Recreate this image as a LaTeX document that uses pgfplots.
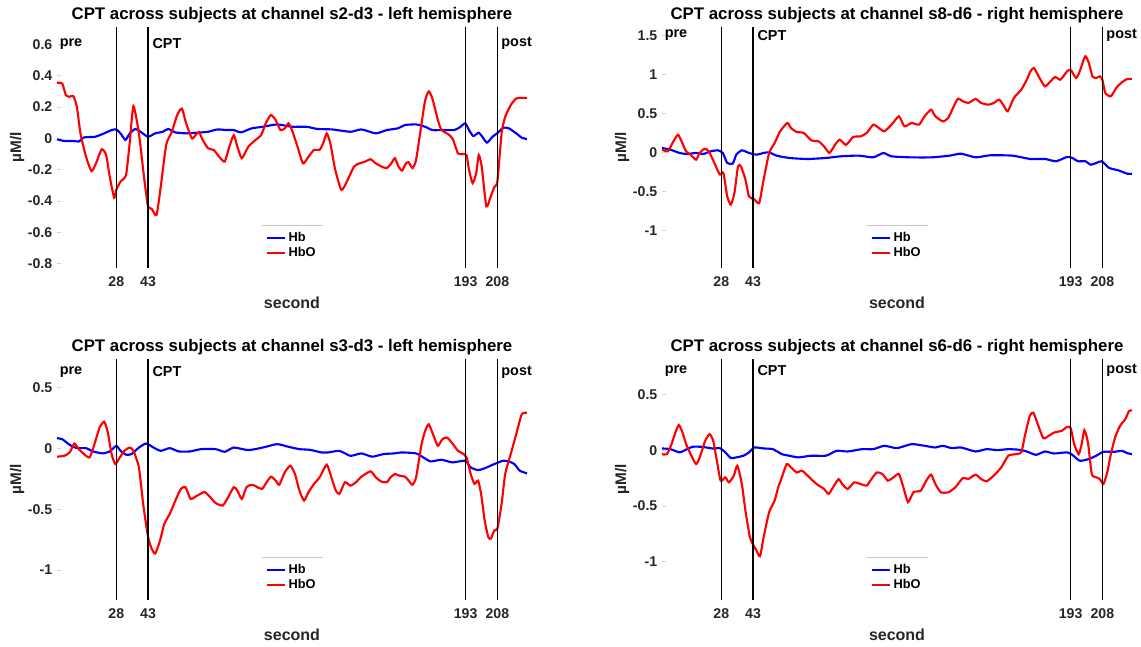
\documentclass[border=0pt]{standalone}
\usepackage{fontspec}
\setmainfont{Liberation Sans}
\usepackage{pgfplots}
\pgfplotsset{compat=1.18}
\definecolor{tickgray}{HTML}{262626}

\tikzset{
  lab/.style={font=\fontsize{10.8}{12}\selectfont\bfseries, anchor=west, inner sep=0pt},
}
\pgfplotsset{
  cpt/.style={
    scale only axis,
    width=352.5pt, height=180.75pt,
    anchor=south west,
    xmin=0, xmax=222,
    axis x line*=bottom, axis y line*=left,
    axis line style={draw=none},
    xtick={28,43,193,208},
    xticklabels={28,43,193,208},
    xtick style={draw=none},
    ytick style={draw=gray!35, line width=0.5pt},
    tick align=inside,
    major tick length=3pt,
    ticklabel style={font=\fontsize{10.6}{12}\selectfont\bfseries, text=tickgray},
    xticklabel style={yshift=-3pt},
    title style={font=\fontsize{12.6}{14}\selectfont\bfseries, yshift=-6.5pt},
    xlabel={second},
    ylabel={µM/l},
    xlabel style={font=\fontsize{12}{14}\selectfont\bfseries, text=tickgray, at={(axis description cs:0.5,-0.145)}, anchor=center},
    ylabel style={font=\fontsize{11.5}{14}\selectfont\bfseries, text=tickgray, at={(axis description cs:-0.085,0.5)}, anchor=center},
    legend style={at={(axis description cs:0.5,0.02)}, anchor=south, draw=none, fill=white,
      font=\fontsize{9.6}{11}\selectfont\bfseries, inner sep=1.5pt, row sep=-1.5pt},
    legend cell align=left,
    legend image code/.code={\draw[#1, line width=1.6pt] (0pt,0pt) -- (13.5pt,0pt);},
    clip=false,
  },
  hb/.style={blue, line width=1.6pt, smooth, tension=0.35},
  hbo/.style={red, line width=1.6pt, smooth, tension=0.35},
  vline/.style={black, line width=1.1pt, forget plot},
}

\begin{document}
\begin{tikzpicture}
\path[use as bounding box] (0,0) rectangle (855.75pt,484.5pt);

% ---------- top left: s2-d3 ----------
\begin{axis}[cpt, at={(42.75pt,283.5pt)},
  ymin=-0.829, ymax=0.712,
  ytick={-0.8,-0.6,-0.4,-0.2,0,0.2,0.4,0.6},
  yticklabels={-0.8,-0.6,-0.4,-0.2,0,0.2,0.4,0.6},
  title={CPT across subjects at channel s2-d3 - left hemisphere}]
\addplot[hb] coordinates {
(0,-0.006)(3.4,-0.017)(7.7,-0.017)(10.3,-0.02)(12.8,0.006)(18,0.01)(22.3,0.032)(25.8,0.053)(28,0.057)(30,0.032)(32.3,-0.01)(34.4,0.032)(37,0.06)(39.5,0.042)(43,0.01)(46.4,0.032)(49.9,0.042)(52.5,0.06)(55.9,0.038)(61,0.032)(66.2,0.036)(71.4,0.042)(75.7,0.057)(80,0.053)(83.5,0.053)(86.9,0.038)(92,0.064)(97.2,0.074)(104,0.089)(111,0.074)(117.9,0.074)(123,0.06)(130,0.057)(138.6,0.042)(143.8,0.057)(150.6,0.032)(155.8,0.053)(161,0.064)(164.4,0.085)(169.6,0.089)(173.9,0.074)(177.3,0.053)(183.3,0.053)(187.6,0.053)(190.2,0.07)(192.8,0.096)(194.6,0.053)(196.6,0.015)(199.2,0.036)(200.9,0.01)(203.1,-0.028)(205.7,0.01)(208.2,0.036)(210.8,0.068)(213.4,0.064)(216.9,0.032)(219.5,0.004)(222,-0.004)
};
\addplot[hbo] coordinates {
(0,0.355)(2.5,0.35)(4.2,0.276)(6,0.266)(7.7,0.27)(9.4,0.2)(11.1,0.03)(13.7,-0.117)(16.3,-0.21)(18.4,-0.16)(21.1,-0.07)(23.2,-0.106)(24.9,-0.244)(27,-0.38)(28,-0.33)(30,-0.276)(32.6,-0.235)(34.4,-0.02)(36.1,0.206)(38.7,0.03)(41.3,-0.27)(43,-0.435)(44.7,-0.45)(47,-0.49)(49,-0.31)(51.6,-0.04)(54.2,0.04)(56.8,0.15)(59,0.19)(61,0.096)(63.7,0)(65.4,0.02)(67.1,0.04)(68.8,-0.01)(71.4,-0.064)(74,-0.074)(76.6,-0.117)(79.2,-0.149)(81.4,-0.053)(83.5,0.02)(85.2,-0.053)(87.3,-0.127)(90.4,-0.053)(93.8,-0.01)(96.4,0.02)(98.6,0.096)(101,0.149)(103.3,0.117)(105.5,0.053)(107.6,0.064)(109.3,0.096)(111,0.053)(113.6,-0.053)(116.2,-0.16)(118.8,-0.117)(121.4,-0.074)(124,-0.074)(125.7,-0.032)(127.4,0.032)(129.1,-0.032)(131.4,-0.2)(134.3,-0.33)(136.9,-0.276)(140.3,-0.18)(142.9,-0.16)(145.5,-0.149)(148.1,-0.134)(150.6,-0.16)(153.2,-0.18)(155.8,-0.19)(157.9,-0.16)(159.6,-0.127)(161.3,-0.18)(163,-0.206)(164.8,-0.16)(166.1,-0.153)(167.9,-0.19)(169.6,-0.138)(172.2,0.096)(173.9,0.244)(175.6,0.3)(177.3,0.255)(179.9,0.117)(181.6,0.053)(184.2,0.032)(186.8,0)(189.4,-0.096)(191.6,-0.1)(193.4,-0.106)(194.6,-0.2)(196.3,-0.287)(198,-0.223)(199.2,-0.106)(200.6,-0.18)(202.8,-0.435)(204.9,-0.37)(206.6,-0.31)(208,-0.276)(210,0.032)(211.7,0.138)(214.3,0.212)(216.9,0.255)(219.5,0.259)(222,0.259)
};
\legend{Hb,HbO}
\addplot[vline] coordinates {(28,-0.829)(28,0.712)};
\addplot[vline] coordinates {(43,-0.829)(43,0.712)};
\addplot[vline] coordinates {(193,-0.829)(193,0.712)};
\addplot[vline] coordinates {(208,-0.829)(208,0.712)};
\node[lab] at (axis cs:1.2,0.605) {pre};
\node[lab] at (axis cs:45,0.605) {CPT};
\node[lab] at (axis cs:209.8,0.605) {post};
\draw[gray!45, line width=0.6pt] (rel axis cs:0.436,0.178) -- (rel axis cs:0.566,0.178);
\end{axis}

% ---------- top right: s8-d6 ----------
\begin{axis}[cpt, at={(496.5pt,283.5pt)},
  ymin=-1.476, ymax=1.608,
  ytick={-1,-0.5,0,0.5,1,1.5},
  yticklabels={-1,-0.5,0,0.5,1,1.5},
  title={CPT across subjects at channel s8-d6 - right hemisphere}]
\addplot[hb] coordinates {
(0,0.06)(4,0.038)(8.3,-0.004)(11.8,-0.017)(16.1,-0.004)(19.5,-0.017)(23,0.017)(26.4,0.03)(28.7,-0.004)(30.8,-0.132)(33.4,-0.14)(35.1,-0.026)(37.7,0.03)(41.1,-0.004)(44.6,-0.026)(48,-0.004)(50.6,0.004)(54.1,-0.038)(60.1,-0.068)(68.7,-0.081)(77.4,-0.068)(84.3,-0.047)(92.9,-0.038)(99.8,-0.06)(104.6,-0.004)(108.4,-0.047)(117.1,-0.06)(127.4,-0.06)(136,-0.038)(141.2,-0.013)(148.1,-0.06)(155,-0.034)(165.4,-0.038)(174,-0.081)(180.9,-0.081)(186.1,-0.11)(191.3,-0.055)(193.8,-0.068)(196.5,-0.11)(199.9,-0.11)(202.5,-0.154)(205.1,-0.132)(207.7,-0.11)(211.2,-0.196)(215.5,-0.226)(219.8,-0.27)(222,-0.27)
};
\addplot[hbo] coordinates {
(0,0.038)(2.8,0.017)(4.9,0.12)(7.5,0.23)(9.2,0.145)(11.4,0.017)(13.5,-0.026)(16.1,-0.09)(17.8,-0.004)(20.1,0.05)(22.1,0.017)(24.7,-0.13)(27.3,-0.28)(29,-0.26)(30.8,-0.56)(32.5,-0.665)(34.2,-0.516)(35.9,-0.175)(37.3,-0.175)(39.4,-0.346)(41.1,-0.56)(43.7,-0.6)(45.9,-0.644)(48,-0.346)(50.6,-0.004)(53.2,0.124)(55.8,0.273)(59.2,0.38)(60.9,0.316)(63.6,0.265)(67,0.252)(70.5,0.158)(73.9,0.145)(76.5,0.081)(79.1,-0.004)(81.7,0.1)(83.9,0.166)(86.9,0.1)(90.3,0.2)(93.8,0.209)(96.7,0.252)(99.8,0.358)(102.4,0.316)(105,0.273)(108.4,0.358)(111.9,0.465)(114.5,0.337)(117.9,0.38)(121.4,0.358)(124,0.465)(127.1,0.55)(129.1,0.465)(132.6,0.4)(135.2,0.444)(137.8,0.593)(139.8,0.69)(142.1,0.657)(144.7,0.636)(148.1,0.687)(150.7,0.636)(154.2,0.614)(156.7,0.636)(159.3,0.678)(161.6,0.593)(163.3,0.529)(166.2,0.7)(169.7,0.806)(172.3,0.934)(174,1.04)(175.7,1.084)(178.3,0.956)(180.9,0.849)(183.5,0.913)(185.7,0.968)(188.2,0.934)(191.3,1.04)(193,1.06)(195.6,0.956)(197.3,1.04)(199.9,1.233)(201.6,1.148)(203.3,0.977)(205.1,0.956)(206.8,0.977)(208,0.934)(209.4,0.764)(212,0.72)(214.6,0.83)(217.2,0.9)(219.8,0.943)(222,0.943)
};
\legend{Hb,HbO}
\addplot[vline] coordinates {(28,-1.476)(28,1.608)};
\addplot[vline] coordinates {(43,-1.476)(43,1.608)};
\addplot[vline] coordinates {(193,-1.476)(193,1.608)};
\addplot[vline] coordinates {(208,-1.476)(208,1.608)};
\node[lab] at (axis cs:1.2,1.5) {pre};
\node[lab] at (axis cs:45,1.5) {CPT};
\node[lab] at (axis cs:209.8,1.5) {post};
\draw[gray!45, line width=0.6pt] (rel axis cs:0.436,0.178) -- (rel axis cs:0.566,0.178);
\end{axis}

% ---------- bottom left: s3-d3 ----------
\begin{axis}[cpt, at={(42.75pt,34.5pt)},
  ymin=-1.245, ymax=0.731,
  ytick={-1,-0.5,0,0.5},
  yticklabels={-1,-0.5,0,0.5},
  title={CPT across subjects at channel s3-d3 - left hemisphere}]
\addplot[hb] coordinates {
(0,0.082)(2.5,0.073)(6,0.027)(9.4,0)(13.7,0)(17.1,-0.027)(21.5,-0.043)(24.9,-0.027)(28,0.019)(30,-0.022)(32.7,-0.054)(35.2,-0.049)(38.7,0.005)(42.1,0.038)(45.6,0.005)(49,-0.022)(53.3,0)(57.6,-0.027)(62.8,-0.027)(68,-0.008)(74.9,-0.008)(79.2,-0.03)(83.5,0.005)(90.4,-0.016)(97.2,0.005)(104,0.033)(109.3,0.011)(114.5,-0.008)(119.6,-0.014)(124.8,-0.035)(128.2,-0.035)(133.4,-0.022)(138.6,-0.063)(143.8,-0.043)(148.9,-0.07)(154.1,-0.049)(159.3,-0.043)(162.7,-0.035)(169.6,-0.043)(173,-0.076)(176.5,-0.109)(181.6,-0.095)(186.8,-0.117)(192.8,-0.103)(195.4,-0.158)(198.9,-0.18)(202.3,-0.163)(206.6,-0.13)(210.8,-0.103)(213.4,-0.109)(216,-0.13)(218.6,-0.185)(222,-0.207)
};
\addplot[hbo] coordinates {
(0,-0.07)(3.4,-0.063)(6,-0.035)(8.2,0.038)(10.3,-0.008)(12.8,-0.049)(15.4,-0.076)(17.7,0.033)(20.1,0.168)(22.3,0.217)(24,0.128)(25.8,-0.049)(27.5,-0.13)(29.2,-0.09)(31.8,-0.022)(34.4,0.005)(36.1,-0.022)(38.7,-0.158)(40.7,-0.457)(43,-0.728)(44.7,-0.823)(46.4,-0.864)(48.7,-0.755)(50.7,-0.62)(53.3,-0.538)(55.9,-0.43)(58.5,-0.334)(60.7,-0.32)(63.1,-0.416)(66.2,-0.389)(69.7,-0.36)(72.3,-0.4)(74.9,-0.45)(78.3,-0.47)(80.9,-0.4)(83.5,-0.32)(85.2,-0.348)(87.3,-0.416)(89.5,-0.32)(92.1,-0.3)(94.7,-0.32)(96.9,-0.334)(99,-0.28)(101.1,-0.234)(103.3,-0.266)(105,-0.3)(107.6,-0.198)(110.2,-0.144)(112.4,-0.212)(114.5,-0.348)(116.7,-0.43)(118.8,-0.36)(121.4,-0.293)(124,-0.24)(127.4,-0.136)(129.6,-0.24)(131.7,-0.348)(133.4,-0.375)(136,-0.28)(138.6,-0.307)(141.2,-0.28)(143.8,-0.234)(148.1,-0.19)(150.6,-0.24)(153.2,-0.274)(155.8,-0.28)(157.5,-0.24)(159.6,-0.212)(161.8,-0.226)(164.4,-0.234)(166.1,-0.266)(167.9,-0.3)(169.6,-0.24)(172.2,0.033)(173.9,0.141)(175.6,0.196)(177.9,0.1)(179.9,0.019)(182,0.073)(184.2,0.087)(186.8,0.038)(189.4,-0.022)(191.6,-0.043)(193.4,-0.076)(195.4,-0.212)(197.2,-0.293)(198.9,-0.266)(200.3,-0.375)(202,-0.592)(203.7,-0.728)(204.9,-0.742)(206.6,-0.674)(208,-0.66)(210,-0.457)(211.7,-0.212)(214.3,-0.049)(216.9,0.114)(219.5,0.277)(222,0.29)
};
\legend{Hb,HbO}
\addplot[vline] coordinates {(28,-1.245)(28,0.731)};
\addplot[vline] coordinates {(43,-1.245)(43,0.731)};
\addplot[vline] coordinates {(193,-1.245)(193,0.731)};
\addplot[vline] coordinates {(208,-1.245)(208,0.731)};
\node[lab] at (axis cs:1.2,0.625) {pre};
\node[lab] at (axis cs:45,0.625) {CPT};
\node[lab] at (axis cs:209.8,0.625) {post};
\draw[gray!45, line width=0.6pt] (rel axis cs:0.436,0.178) -- (rel axis cs:0.566,0.178);
\end{axis}

% ---------- bottom right: s6-d6 ----------
\begin{axis}[cpt, at={(496.5pt,34.5pt)},
  ymin=-1.345, ymax=0.818,
  ytick={-1,-0.5,0,0.5},
  yticklabels={-1,-0.5,0,0.5},
  title={CPT across subjects at channel s6-d6 - right hemisphere}]
\addplot[hb] coordinates {
(0,0.015)(4,0.009)(8.3,-0.02)(11.8,0.009)(14.4,0.03)(18.7,0.03)(23.9,0.015)(27.3,0.018)(29.9,-0.02)(32.5,-0.071)(35.1,-0.065)(38.5,-0.05)(41.1,-0.02)(43.7,0.024)(48,0.015)(52.3,0.009)(56.6,-0.036)(60.1,-0.05)(64.4,-0.065)(70.5,-0.05)(77.4,-0.05)(82.5,-0.006)(87.7,-0.012)(94.6,0.009)(99.8,0.009)(105,0.039)(111,0.018)(117.9,0.054)(124,0.039)(129.1,0.024)(132.6,0.039)(136.9,0.018)(141.2,0.024)(148.1,-0.012)(153.3,0.009)(158.5,0)(163.6,0.009)(168.8,0.003)(172.3,-0.012)(176.6,-0.042)(180.9,-0.012)(185.2,-0.03)(191.3,-0.02)(193.8,-0.042)(197.3,-0.095)(201.6,-0.08)(205.1,-0.05)(208.5,-0.015)(213.7,-0.015)(217.2,-0.006)(219.8,-0.027)(222,-0.036)
};
\addplot[hbo] coordinates {
(0,-0.036)(2.3,-0.036)(4.5,0.054)(6.6,0.173)(8,0.226)(9.7,0.158)(11.4,0.054)(13.5,-0.036)(16.1,-0.125)(17.8,-0.065)(20.4,0.083)(22.5,0.143)(24.2,0.083)(25.9,-0.095)(27.7,-0.274)(29.9,-0.244)(31.6,-0.289)(33.9,-0.23)(35.6,-0.14)(37.7,-0.304)(39.4,-0.542)(41.5,-0.78)(43.2,-0.854)(44.6,-0.9)(46.3,-0.952)(48,-0.78)(50.6,-0.557)(53.2,-0.452)(54.9,-0.333)(56.6,-0.244)(58.9,-0.125)(60.9,-0.155)(63.6,-0.2)(66.2,-0.185)(69.6,-0.244)(73,-0.304)(76.5,-0.348)(78.7,-0.393)(80.8,-0.333)(83.4,-0.26)(85.1,-0.304)(87.7,-0.348)(90.8,-0.289)(93.8,-0.304)(96.7,-0.318)(98.9,-0.26)(101.5,-0.2)(104.1,-0.214)(106.7,-0.274)(109.3,-0.244)(111.9,-0.214)(114,-0.333)(116.2,-0.467)(118.8,-0.378)(122.3,-0.363)(124.8,-0.274)(127.1,-0.22)(129.1,-0.304)(131.7,-0.378)(135.2,-0.378)(138.6,-0.333)(142.1,-0.25)(144.7,-0.259)(148.1,-0.22)(150.7,-0.259)(153.3,-0.28)(156.7,-0.229)(160.2,-0.155)(163.6,-0.05)(167.1,-0.036)(169.7,-0.02)(171.4,0.128)(173.7,0.307)(175.4,0.336)(177.5,0.232)(180.1,0.107)(182.6,0.128)(185.2,0.158)(188.7,0.173)(191.3,0.208)(193,0.2)(194.7,0.054)(196.8,-0.036)(198.2,0.054)(199.5,0.179)(201.2,0.068)(203,-0.214)(205.1,-0.244)(206.8,-0.259)(208.5,-0.304)(210.3,-0.2)(212,-0.036)(214,0.113)(216.3,0.217)(218.8,0.277)(220.6,0.351)(222,0.357)
};
\legend{Hb,HbO}
\addplot[vline] coordinates {(28,-1.345)(28,0.818)};
\addplot[vline] coordinates {(43,-1.345)(43,0.818)};
\addplot[vline] coordinates {(193,-1.345)(193,0.818)};
\addplot[vline] coordinates {(208,-1.345)(208,0.818)};
\node[lab] at (axis cs:1.2,0.713) {pre};
\node[lab] at (axis cs:45,0.713) {CPT};
\node[lab] at (axis cs:209.8,0.713) {post};
\draw[gray!45, line width=0.6pt] (rel axis cs:0.436,0.178) -- (rel axis cs:0.566,0.178);
\end{axis}
\end{tikzpicture}
\end{document}
